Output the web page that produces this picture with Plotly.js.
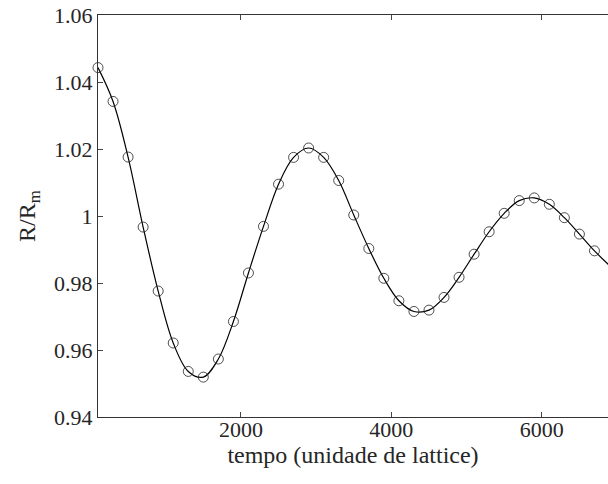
<!DOCTYPE html>
<html>
<head>
<meta charset="utf-8">
<script src="https://cdn.plot.ly/plotly-3.0.1.min.js"></script>
<style>
html,body{margin:0;padding:0;background:#fff;overflow:hidden;}
#chart{width:608px;height:484px;}
</style>
</head>
<body>
<div id="chart"></div>
<script>
// sampled points (circles)
const tempo = [100,300,500,700,900,1100,1300,1500,1700,1900,2100,2300,2500,2700,2900,3100,3300,3500,3700,3900,4100,4300,4500,4700,4900,5100,5300,5500,5700,5900,6100,6300,6500,6700];
const razao = [1.0443,1.0342,1.0176,0.9967,0.9776,0.9621,0.9536,0.9519,0.9573,0.9685,0.9830,0.9969,1.0095,1.0175,1.0203,1.0175,1.0106,1.0003,0.9903,0.9814,0.9747,0.9715,0.9719,0.9757,0.9817,0.9886,0.9953,1.0008,1.0046,1.0054,1.0035,0.9995,0.9946,0.9896];
// continuous curve (extends past the last circle, clipped at the right edge)
const tempoCurva = tempo.concat([6900]);
const razaoCurva = razao.concat([0.9852]);

const yTickVals = [0.94,0.96,0.98,1.00,1.02,1.04,1.06];
const yTickText = ["0.94","0.96","0.98","1","1.02","1.04","1.06"];
const xTickVals = [2000,4000,6000];
const xTickText = ["2000","4000","6000"];

const fontFam = "Liberation Serif";
const tickSize = 22;
const titleSize = 24;

const traces = [
  {x: tempoCurva, y: razaoCurva, mode: 'lines', type: 'scatter',
   line: {color: '#000', width: 1.2, shape: 'spline', smoothing: 1}, hoverinfo: 'skip', showlegend: false},
  {x: tempo, y: razao, mode: 'markers', type: 'scatter', cliponaxis: false,
   marker: {symbol: 'circle-open', size: 10, color: '#222', line: {width: 0.8, color: '#222'}}, showlegend: false}
];

const layout = {
  width: 608, height: 484,
  margin: {l: 97.5, r: 0, t: 15, b: 67, pad: 0},
  paper_bgcolor: '#fff', plot_bgcolor: '#fff',
  font: {family: fontFam, size: tickSize, color: '#262626'},
  showlegend: false,
  xaxis: {
    range: [100, 6880], autorange: false,
    tickmode: 'array', tickvals: xTickVals, ticktext: xTickText,
    ticks: 'inside', ticklen: 5, tickcolor: '#444', tickwidth: 1,
    ticklabelstandoff: -7,
    showline: true, linecolor: '#333', linewidth: 1, mirror: 'ticks',
    showgrid: false, zeroline: false, automargin: false,
    tickfont: {family: fontFam, size: tickSize, color: '#262626'},
    title: {text: 'tempo (unidade de lattice)', font: {family: fontFam, size: titleSize, color: '#262626'}, standoff: 0}
  },
  yaxis: {
    range: [0.94, 1.06], autorange: false,
    tickmode: 'array', tickvals: yTickVals, ticktext: yTickText,
    ticks: 'inside', ticklen: 5, tickcolor: '#444', tickwidth: 1,
    showline: true, linecolor: '#333', linewidth: 1, mirror: false,
    showgrid: false, zeroline: false, automargin: false,
    tickfont: {family: fontFam, size: tickSize, color: '#262626'},
    title: {text: 'R/R<sub>m</sub>', font: {family: fontFam, size: titleSize, color: '#262626'}, standoff: 11}
  }
};

Plotly.newPlot('chart', traces, layout, {displayModeBar: false, staticPlot: true});
</script>
</body>
</html>
